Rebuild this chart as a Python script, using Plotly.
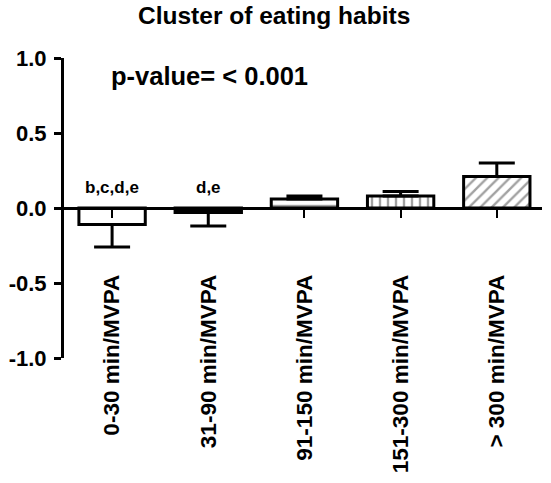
import plotly.graph_objects as go

categories = ["0-30 min/MVPA", "31-90 min/MVPA", "91-150 min/MVPA", "151-300 min/MVPA", "> 300 min/MVPA"]
means = [-0.11, -0.03, 0.06, 0.08, 0.21]
errors = [0.15, 0.09, 0.02, 0.03, 0.09]
letters = ["b,c,d,e", "d,e", "", "", ""]
patterns = ["", "", "-", "|", "/"]
fills = ["white", "black", "white", "white", "white"]
yticks = [-1.0, -0.5, 0.0, 0.5, 1.0]

FONT = "Liberation Sans, Arial, sans-serif"
xs = list(range(len(categories)))

err_plus = [e if m >= 0 else 0 for m, e in zip(means, errors)]
err_minus = [e if m < 0 else 0 for m, e in zip(means, errors)]

PL, PR, PT, PB = 56, 542, 58, 358


def px_x(p):
    return (p - PL) / (PR - PL)


def px_y(p):
    return (PB - p) / (PB - PT)


fig = go.Figure()
fig.add_trace(go.Bar(
    x=xs, y=means, width=0.69,
    marker=dict(color=fills, line=dict(color="black", width=3),
                pattern=dict(shape=patterns, fgcolor="black", bgcolor=fills,
                             size=8, solidity=0.3)),
    error_y=dict(type="data", symmetric=False, array=err_plus, arrayminus=err_minus,
                 color="black", thickness=3, width=18),
    showlegend=False,
))

for x, m, lab in zip(xs, means, letters):
    if lab:
        fig.add_annotation(x=x, y=0, text=f"<b>{lab}</b>", showarrow=False,
                           yanchor="bottom", yshift=9,
                           font=dict(family=FONT, size=17, color="black"))

fig.add_annotation(xref="paper", yref="paper", x=px_x(129), y=px_y(15),
                   text="<b>Cluster of eating habits</b>", showarrow=False,
                   xanchor="left", yanchor="middle",
                   font=dict(family=FONT, size=24.5, color="black"))
fig.add_annotation(xref="paper", yref="paper", x=px_x(102), y=px_y(76),
                   text="<b>p-value= < 0.001</b>", showarrow=False,
                   xanchor="left", yanchor="middle",
                   font=dict(family=FONT, size=25.5, color="black"))

fig.update_layout(
    width=551, height=483,
    margin=dict(l=PL, r=551 - PR, t=PT, b=483 - PB),
    plot_bgcolor="white", paper_bgcolor="white",
    xaxis=dict(range=[-0.5, 4.47], tickmode="array", tickvals=xs,
               ticktext=[f"<b>{c}</b>" for c in categories],
               tickangle=-90, showline=True, linecolor="black", linewidth=2.5,
               ticks="outside", ticklen=8, tickwidth=2, tickcolor="black",
               anchor="free", position=0.5, ticklabelstandoff=48,
               showgrid=False, zeroline=False,
               tickfont=dict(family=FONT, size=22.5, color="black")),
    yaxis=dict(range=[-1.0, 1.0], tickmode="array", tickvals=yticks,
               ticktext=[f"<b>{t:.1f}</b>" for t in yticks],
               showline=True, linecolor="black", linewidth=3,
               ticks="outside", ticklen=7, tickwidth=3, tickcolor="black",
               ticklabelstandoff=3,
               showgrid=False, zeroline=False,
               tickfont=dict(family=FONT, size=22, color="black")),
)

fig.write_html("out.html", config={"displayModeBar": False},
               post_script="document.body.style.margin='0';")
